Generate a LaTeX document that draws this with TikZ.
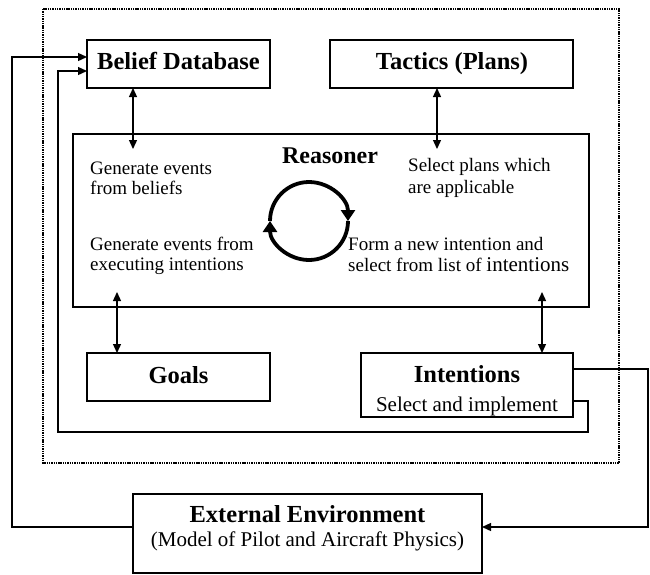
\documentclass[tikz,border=0pt]{standalone}
\usepackage{fontspec}
\setmainfont{Liberation Serif}
\usetikzlibrary{arrows.meta}
\begin{document}
\begin{tikzpicture}[x=1pt,y=-1pt,
  box/.style={draw, line width=1.3pt, inner sep=0pt, outer sep=0pt},
  title/.style={font=\fontsize{24.5}{29}\selectfont\bfseries, inner sep=0pt, anchor=base},
  reas/.style={font=\fontsize{24}{29}\selectfont\bfseries, inner sep=0pt, anchor=base},
  small/.style={font=\fontsize{19}{22}\selectfont, inner sep=0pt, anchor=base west},
  sub/.style={font=\fontsize{21}{24}\selectfont, inner sep=0pt, anchor=base},
  conn/.style={line width=1.3pt},
  tip/.style={-{Triangle[length=9pt,width=8pt]}},
  both/.style={{Triangle[length=9pt,width=8pt]}-{Triangle[length=9pt,width=8pt]}},
  frame/.style={line width=1.6pt, dash pattern=on 1.4pt off 0.9pt},
  cyc/.style={line width=3.8pt, -{Triangle[length=11pt,width=14pt]}}
]
\useasboundingbox (0,0) rectangle (650,574);

% dotted agent frame
\draw[frame] (43,9) rectangle (619,463);

% boxes
\node[box, minimum width=183pt, minimum height=48pt] (belief) at (178.5,64) {};
\node[box, minimum width=243pt, minimum height=48pt] (tactics) at (451.5,64) {};
\node[box, minimum width=516pt, minimum height=173pt] (reasoner) at (331,220.5) {};
\node[box, minimum width=183pt, minimum height=48pt] (goals) at (178.5,377) {};
\node[box, minimum width=212pt, minimum height=64pt] (intentions) at (467,385) {};
\node[box, minimum width=349pt, minimum height=79pt] (external) at (307.5,533.5) {};

% texts
\node[title] (tbelief) at (178.5,69) {Belief Database};
\node[title] (ttactics) at (452,69) {Tactics (Plans)};
\node[reas] (treasoner) at (330,163) {Reasoner};
\node[title] (tgoals) at (178.5,383) {Goals};
\node[title] (tintentions) at (467,382) {Intentions};
\node[sub] (tselect) at (467,411) {Select and implement};
\node[title] (texternal) at (307.5,522) {External Environment};
\node[sub] (tmodel) at (307.5,546) {(Model of Pilot and Aircraft Physics)};

\node[small] (r1a) at (90,174) {Generate events};
\node[small] (r1b) at (90,194) {from beliefs};
\node[small] (r2a) at (90,250) {Generate events from};
\node[small] (r2b) at (90,270) {executing intentions};
\node[small] (r3a) at (408,171) {Select plans which};
\node[small] (r3b) at (408,193) {are applicable};
\node[small] (r4a) at (348,250) {Form a new intention and};
\node[small] (r4b) at (348,271) {select from list of {\fontsize{21}{22}\selectfont intentions}};

% reasoning cycle
\coordinate (cyc) at (309,221);
\draw[cyc] ([xshift=39pt]cyc) arc[start angle=0, end angle=180, radius=39];
\draw[cyc] ([xshift=-39pt]cyc) arc[start angle=180, end angle=360, radius=39];

% two-way links
\coordinate (bend) at (133,149);
\coordinate (tend) at (437,149);
\coordinate (gend) at (117,292);
\coordinate (iend) at (542,292);
\draw[conn, both] (belief.south -| bend) -- (bend);
\draw[conn, both] (tactics.south -| tend) -- (tend);
\draw[conn, both] (gend) -- (goals.north -| gend);
\draw[conn, both] (iend) -- (intentions.north -| iend);

% feedback loops
\draw[conn, tip] (external.west |- 0,527) -- (12,527) -- (12,57) -- (belief.west |- 0,57);
\draw[conn, tip] (intentions.east |- 0,401) -- (588,401) -- (588,432) -- (58,432) -- (58,71) -- (belief.west |- 0,71);
\draw[conn, tip] (intentions.east |- 0,369) -- (648,369) -- (648,527) -- (external.east |- 0,527);
\end{tikzpicture}
\end{document}
